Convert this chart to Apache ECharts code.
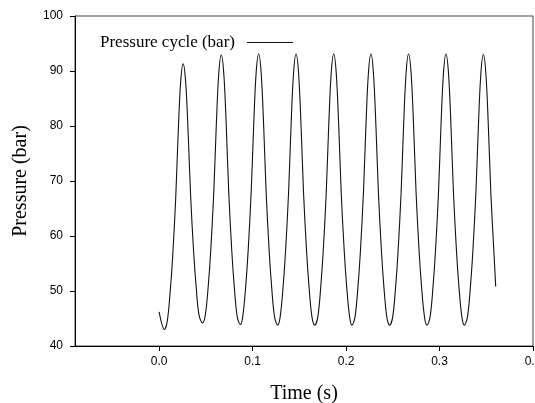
<!DOCTYPE html>
<html>
<head>
<meta charset="utf-8">
<script src="https://cdn.jsdelivr.net/npm/echarts@6/dist/echarts.min.js"></script>
<style>
html,body{margin:0;padding:0;background:#fff;}
#chart{width:535px;height:403px;}
</style>
</head>
<body>
<div id="chart"></div>
<script>
var seriesName = 'Pressure cycle (bar)';
var xTicks = [0.0, 0.1, 0.2, 0.3, 0.4];
var yTicks = [40, 50, 60, 70, 80, 90, 100];

var times = [
0.0000, 0.0057,
0.0087, 0.0118, 0.0144, 0.0177, 0.0203, 0.0230, 0.0257,
0.0284, 0.0311, 0.0337, 0.0370, 0.0396, 0.0427, 0.0464,
0.0495, 0.0526, 0.0552, 0.0585, 0.0611, 0.0638, 0.0665,
0.0692, 0.0719, 0.0745, 0.0778, 0.0804, 0.0835, 0.0868,
0.0895, 0.0926, 0.0952, 0.0985, 0.1011, 0.1038, 0.1065,
0.1092, 0.1119, 0.1145, 0.1178, 0.1204, 0.1235, 0.1268,
0.1295, 0.1326, 0.1352, 0.1385, 0.1411, 0.1438, 0.1465,
0.1492, 0.1519, 0.1545, 0.1578, 0.1604, 0.1635, 0.1665,
0.1698, 0.1729, 0.1755, 0.1788, 0.1814, 0.1841, 0.1868,
0.1895, 0.1922, 0.1948, 0.1981, 0.2007, 0.2038, 0.2063,
0.2096, 0.2127, 0.2153, 0.2186, 0.2212, 0.2239, 0.2266,
0.2293, 0.2320, 0.2346, 0.2379, 0.2405, 0.2436, 0.2466,
0.2499, 0.2530, 0.2556, 0.2589, 0.2615, 0.2642, 0.2669,
0.2696, 0.2723, 0.2749, 0.2782, 0.2808, 0.2839, 0.2866,
0.2899, 0.2930, 0.2956, 0.2989, 0.3015, 0.3042, 0.3069,
0.3096, 0.3123, 0.3149, 0.3182, 0.3208, 0.3239, 0.3266,
0.3299, 0.3330, 0.3356, 0.3389, 0.3415, 0.3442, 0.3469,
0.3496, 0.3523, 0.3549, 0.3582, 0.3601
];

var pressures = [
46.2, 43.0,
44.5, 49.8, 56.0, 66.7, 78.3, 87.9, 91.3,
88.0, 78.6, 67.3, 56.9, 50.8, 45.6, 44.2,
45.7, 51.0, 57.3, 68.1, 79.8, 89.5, 92.9,
89.5, 79.7, 67.9, 57.1, 50.8, 45.4, 43.9,
45.4, 50.8, 57.2, 68.0, 79.8, 89.7, 93.1,
89.6, 79.8, 67.9, 57.1, 50.7, 45.3, 43.8,
45.3, 50.7, 57.1, 67.9, 79.8, 89.6, 93.1,
89.6, 79.8, 67.9, 57.1, 50.7, 45.3, 43.8,
45.3, 50.7, 57.1, 67.9, 79.8, 89.6, 93.1,
89.6, 79.8, 67.9, 57.1, 50.7, 45.3, 43.8,
45.3, 50.7, 57.1, 67.9, 79.8, 89.6, 93.1,
89.6, 79.8, 67.9, 57.1, 50.7, 45.3, 43.8,
45.3, 50.7, 57.1, 67.9, 79.8, 89.6, 93.1,
89.6, 79.8, 67.9, 57.1, 50.7, 45.3, 43.8,
45.3, 50.7, 57.1, 67.9, 79.8, 89.6, 93.1,
89.6, 79.8, 67.9, 57.1, 50.7, 45.3, 43.8,
45.3, 50.7, 57.1, 67.8, 79.7, 89.5, 93.0,
89.5, 79.7, 67.8, 57.0, 50.8
];

var data = times.map(function (t, i) { return [t, pressures[i]]; });

var chart = echarts.init(document.getElementById('chart'), null, {renderer: 'canvas'});
chart.setOption({
  animation: false,
  backgroundColor: '#ffffff',
  grid: {
    left: 75, right: 2, top: 16, bottom: 57,
    outerBoundsMode: 'none',
    containLabel: false,
    show: true, borderColor: '#444', borderWidth: 1, backgroundColor: 'transparent'
  },
  legend: {
    data: [{name: seriesName, icon: 'rect'}],
    left: 100, top: 34, padding: 0,
    align: 'right',
    itemWidth: 46, itemHeight: 1.2,
    textStyle: {fontFamily: 'Liberation Serif', fontSize: 17, color: '#000',
      verticalAlign: 'top', lineHeight: 7, padding: [0, 7, 0, 0]}
  },
  xAxis: {
    type: 'value',
    min: -0.09, max: 0.4,
    name: 'Time (s)',
    nameLocation: 'middle', nameGap: 38,
    nameTextStyle: {fontFamily: 'Liberation Serif', fontSize: 20, color: '#000'},
    axisLine: {show: true, onZero: false, lineStyle: {color: '#000', width: 1}},
    axisTick: {show: true, inside: false, length: 5, customValues: xTicks, lineStyle: {color: '#000'}},
    axisLabel: {
      customValues: xTicks, margin: 10,
      fontFamily: 'Liberation Sans', fontSize: 12, color: '#000',
      formatter: function (v) { return v.toFixed(1); }
    },
    splitLine: {show: false}
  },
  yAxis: {
    type: 'value',
    min: 40, max: 100, interval: 10,
    name: 'Pressure (bar)',
    nameLocation: 'middle', nameGap: 44,
    nameTextStyle: {fontFamily: 'Liberation Serif', fontSize: 20, color: '#000'},
    axisLine: {show: true, onZero: false, lineStyle: {color: '#000', width: 1}},
    axisTick: {show: true, inside: false, length: 5, lineStyle: {color: '#000'}},
    axisLabel: {
      customValues: yTicks, margin: 12,
      fontFamily: 'Liberation Sans', fontSize: 12, color: '#000'
    },
    splitLine: {show: false}
  },
  series: [{
    name: seriesName,
    type: 'line',
    data: data,
    symbol: 'none',
    smooth: 0.35,
    lineStyle: {color: '#111', width: 1.1},
    itemStyle: {color: '#111'}
  }]
});
</script>
</body>
</html>
